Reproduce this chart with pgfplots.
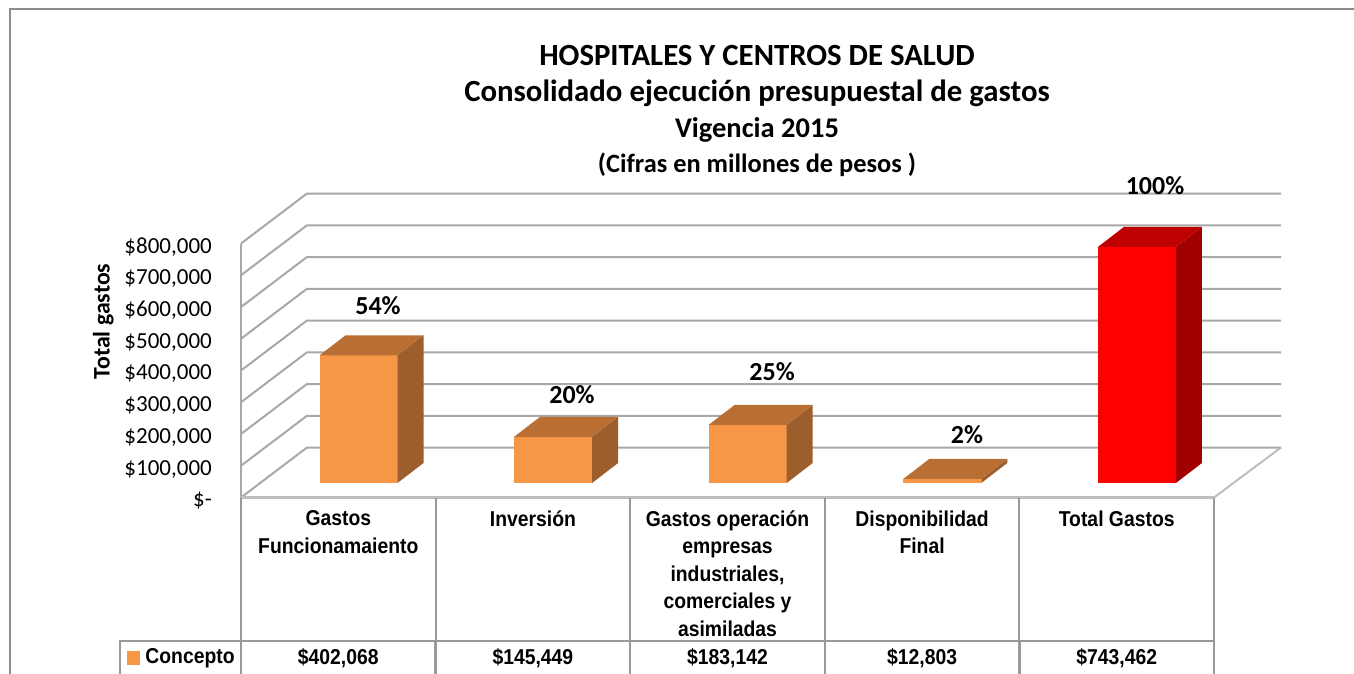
\documentclass[border=0pt]{standalone}
\usepackage{fontspec}
\usepackage{pgfplots}
\pgfplotsset{compat=1.18}
\setmainfont{Carlito}
\newfontfamily\arialb[FakeStretch=0.9]{Liberation Sans}[BoldFont=Liberation Sans Bold]
\definecolor{gridc}{HTML}{A8A8A8}
\definecolor{floorc}{HTML}{BEBEBE}
\definecolor{tabc}{HTML}{999999}
\definecolor{framec}{HTML}{8C8C8C}
\definecolor{ofront}{HTML}{F79646}
\definecolor{oside}{HTML}{9C5E2C}
\definecolor{otop}{HTML}{B96F33}
\definecolor{rfront}{HTML}{FF0000}
\definecolor{rside}{HTML}{A00000}
\definecolor{rtop}{HTML}{BF0000}
\begin{document}
\begin{tikzpicture}
\clip (0,0) rectangle (1354pt,673pt);
\path[draw=framec,line width=2pt] (9.5pt,-20pt) -- (9.5pt,664pt) -- (1370pt,664pt);
\begin{axis}[
  at={(241pt,175.5pt)},anchor=south west,
  scale only axis,width=973pt,height=254pt,
  xmin=-0.5,xmax=4.5,ymin=0,ymax=800000,
  clip=false,
  axis line style={draw=none},tick style={draw=none},
  major tick length=0pt,
  scaled y ticks=false,
  ytick={0,100000,200000,300000,400000,500000,600000,700000,800000},
  yticklabels={{\$-\hspace{9pt}},{\$100,000},{\$200,000},{\$300,000},{\$400,000},{\$500,000},{\$600,000},{\$700,000},{\$800,000}},
  yticklabel style={font=\fontsize{23pt}{25pt}\selectfont,anchor=east,inner xsep=0pt,xshift=-29pt,yshift=-3.5pt},
  xtick={0,1,2,3,4},
  xticklabels={{Gastos\\Funcionamaiento},{Inversión},{Gastos operación\\empresas\\industriales,\\comerciales y\\asimiladas},{Disponibilidad\\Final},{Total Gastos}},
  xticklabel style={font=\arialb\bfseries\fontsize{21.5pt}{27.5pt}\selectfont,align=center,anchor=north,yshift=-13pt,inner ysep=0pt},
  ylabel={\bfseries Total gastos},
  every axis y label/.style={at={(axis description cs:-0.1415,0.693)},rotate=90,anchor=center,font=\fontsize{23.8pt}{25pt}\selectfont},
  nodes near coords,point meta=explicit symbolic,
]
% walls and back grid
\addplot[gridc,line width=2pt,line join=bevel] coordinates {(-0.5,0)(-0.1608,157480)(4.8443,157480)};
\addplot[gridc,line width=2pt] coordinates {(-0.5,100000)(-0.1608,257480)(4.8443,257480)};
\addplot[gridc,line width=2pt] coordinates {(-0.5,200000)(-0.1608,357480)(4.8443,357480)};
\addplot[gridc,line width=2pt] coordinates {(-0.5,300000)(-0.1608,457480)(4.8443,457480)};
\addplot[gridc,line width=2pt] coordinates {(-0.5,400000)(-0.1608,557480)(4.8443,557480)};
\addplot[gridc,line width=2pt] coordinates {(-0.5,500000)(-0.1608,657480)(4.8443,657480)};
\addplot[gridc,line width=2pt] coordinates {(-0.5,600000)(-0.1608,757480)(4.8443,757480)};
\addplot[gridc,line width=2pt] coordinates {(-0.5,700000)(-0.1608,857480)(4.8443,857480)};
\addplot[gridc,line width=2pt] coordinates {(-0.5,800000)(-0.1608,957480)(4.8443,957480)};
\addplot[gridc,line width=2pt] coordinates {(-0.5,0)(-0.5,800000)};
\addplot[floorc,line width=2pt] coordinates {(4.5,0)(4.8443,157480)};
% bars: front, side, top
\addplot[fill=ofront,draw=none] coordinates {(-0.0966,45670)(0.3042,45670)(0.3042,447738)(-0.0966,447738)} -- cycle;
\addplot[fill=oside,draw=none] coordinates {(0.3042,45670)(0.4378,108670)(0.4378,510738)(0.3042,447738)} -- cycle;
\addplot[fill=otop,draw=none] coordinates {(-0.0966,447738)(0.3042,447738)(0.4378,510738)(0.0370,510738)} -- cycle;
\addplot[fill=ofront,draw=none] coordinates {(0.9034,45670)(1.3042,45670)(1.3042,191119)(0.9034,191119)} -- cycle;
\addplot[fill=oside,draw=none] coordinates {(1.3042,45670)(1.4378,108670)(1.4378,254119)(1.3042,191119)} -- cycle;
\addplot[fill=otop,draw=none] coordinates {(0.9034,191119)(1.3042,191119)(1.4378,254119)(1.0370,254119)} -- cycle;
\addplot[fill=ofront,draw=none] coordinates {(1.9034,45670)(2.3042,45670)(2.3042,228812)(1.9034,228812)} -- cycle;
\addplot[fill=oside,draw=none] coordinates {(2.3042,45670)(2.4378,108670)(2.4378,291812)(2.3042,228812)} -- cycle;
\addplot[fill=otop,draw=none] coordinates {(1.9034,228812)(2.3042,228812)(2.4378,291812)(2.0370,291812)} -- cycle;
\addplot[fill=ofront,draw=none] coordinates {(2.9034,45670)(3.3042,45670)(3.3042,58473)(2.9034,58473)} -- cycle;
\addplot[fill=oside,draw=none] coordinates {(3.3042,45670)(3.4378,108670)(3.4378,121473)(3.3042,58473)} -- cycle;
\addplot[fill=otop,draw=none] coordinates {(2.9034,58473)(3.3042,58473)(3.4378,121473)(3.0370,121473)} -- cycle;
\addplot[fill=rfront,draw=none] coordinates {(3.9034,45670)(4.3042,45670)(4.3042,789132)(3.9034,789132)} -- cycle;
\addplot[fill=rside,draw=none] coordinates {(4.3042,45670)(4.4378,108670)(4.4378,852132)(4.3042,789132)} -- cycle;
\addplot[fill=rtop,draw=none] coordinates {(3.9034,789132)(4.3042,789132)(4.4378,852132)(4.0370,852132)} -- cycle;
% data table lines
\addplot[floorc,line width=2.4pt] coordinates {(-0.5,0)(4.5,0)};
\addplot[tabc,line width=1.9pt] coordinates {(-0.5,0)(-0.5,-568000)};
\addplot[tabc,line width=1.9pt] coordinates {(0.5,0)(0.5,-568000)};
\addplot[tabc,line width=1.9pt] coordinates {(1.5,0)(1.5,-568000)};
\addplot[tabc,line width=1.9pt] coordinates {(2.5,0)(2.5,-568000)};
\addplot[tabc,line width=1.9pt] coordinates {(3.5,0)(3.5,-568000)};
\addplot[tabc,line width=1.9pt] coordinates {(4.5,0)(4.5,-568000)};
\addplot[tabc,line width=2.2pt] coordinates {(-1.1218,-568000)(-1.1218,-451968)(4.5,-451968)};
\addplot[tabc,line width=2.4pt] coordinates {(-0.5,-451968)(-0.5,-568000)};
\addplot[tabc,line width=2.4pt] coordinates {(0.5,-451968)(0.5,-568000)};
\addplot[tabc,line width=2.4pt] coordinates {(1.5,-451968)(1.5,-568000)};
\addplot[tabc,line width=2.4pt] coordinates {(2.5,-451968)(2.5,-568000)};
\addplot[tabc,line width=2.4pt] coordinates {(3.5,-451968)(3.5,-568000)};
\addplot[tabc,line width=2.4pt] coordinates {(4.5,-451968)(4.5,-568000)};
% legend key
\addplot[fill=ofront,draw=none] coordinates {(-1.0850,-485000)(-1.0190,-485000)(-1.0190,-527000)(-1.0850,-527000)} -- cycle;
% labels
\addplot[draw=none,mark=none,every node near coord/.style={anchor=center,inner sep=0pt,font=\bfseries\fontsize{26pt}{28pt}\selectfont}] coordinates {(0.204,603158)[54\%] (1.201,322834)[20\%] (2.229,395275)[25\%] (3.231,196850)[2\%] (4.197,981100)[100\%]};
\addplot[draw=none,mark=none,every node near coord/.style={anchor=center,inner sep=0pt,font=\arialb\bfseries\fontsize{21.5pt}{23pt}\selectfont}] coordinates {(0,-505500)[\$402,068] (1,-505500)[\$145,449] (2,-505500)[\$183,142] (3,-505500)[\$12,803] (4,-505500)[\$743,462] (-0.762,-505500)[Concepto]};
\end{axis}
\node[font=\bfseries\fontsize{30.8pt}{32pt}\selectfont,inner sep=0pt] at (757pt,617pt) {HOSPITALES Y CENTROS DE SALUD};
\node[font=\bfseries\fontsize{30.8pt}{32pt}\selectfont,inner sep=0pt] at (757pt,580pt) {Consolidado ejecución presupuestal de gastos};
\node[font=\bfseries\fontsize{28.5pt}{30pt}\selectfont,inner sep=0pt] at (757pt,543pt) {Vigencia 2015};
\node[font=\bfseries\fontsize{26.4pt}{28pt}\selectfont,inner sep=0pt] at (757pt,508pt) {(Cifras en millones de pesos )};
\end{tikzpicture}
\end{document}
